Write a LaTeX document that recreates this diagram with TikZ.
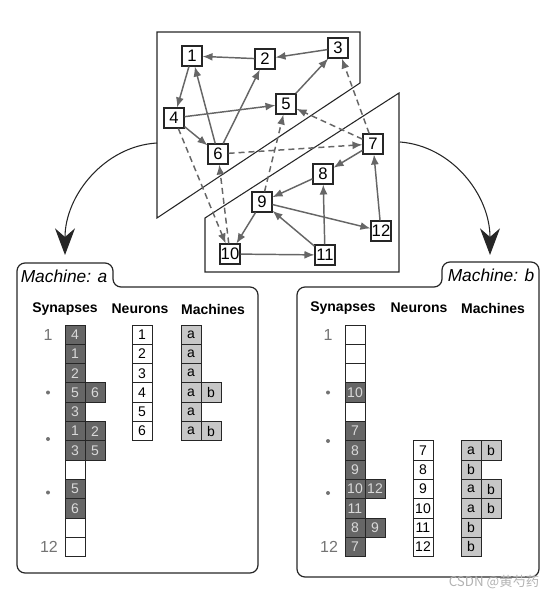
\documentclass[tikz,border=0pt]{standalone}
\usepackage{fontspec}
\setmainfont{Liberation Sans}
\newfontfamily\cjk{Noto Sans CJK SC}
\usetikzlibrary{arrows.meta}

\begin{document}
\begin{tikzpicture}
  [x=0.75pt,y=-0.75pt,
   nrn/.style={draw=black!85,line width=0.8pt,fill=white,minimum size=15pt,inner sep=0pt,font=\fontsize{12.5}{13}\selectfont},
   link/.style={draw=black!60,line width=1.1pt,-{Latex[length=7.5pt,width=6pt]}},
   remote/.style={link,dash pattern=on 4.5pt off 3pt},
   part/.style={draw=black!85,line width=0.8pt},
   box/.style={draw=black!85,line width=0.9pt,rounded corners=6pt},
   move/.style={draw=black!85,line width=0.8pt,-{Stealth[length=20pt,width=15pt]}},
   cell/.style={draw=black!85,line width=0.7pt,minimum width=15pt,minimum height=14.5pt,inner sep=0pt,font=\fontsize{10.5}{12}\selectfont},
   syn/.style={cell,fill=black!60,text=black!15},
   nil/.style={cell,fill=white},
   nrc/.style={cell,fill=white},
   mac/.style={cell,fill=black!22},
   head/.style={font=\bfseries\fontsize{10.5}{12}\selectfont},
   idx/.style={text=black!55,font=\fontsize{12}{14}\selectfont},
   pt/.style={circle,fill=black!55,inner sep=0pt,minimum size=3pt}]

  \useasboundingbox (0,0) rectangle (559,599);

  % partitions of the network
  \draw[part] (157,32) -- (360,32) -- (360,83) -- (157,218) -- cycle;
  \draw[part] (399,93) -- (399,272) -- (205,272) -- (205,218) -- cycle;

  % neurons
  \node [nrn] (n1) at (192,56) {1};
  \node [nrn] (n2) at (265,59) {2};
  \node [nrn] (n3) at (338,48) {3};
  \node [nrn] (n4) at (174,118) {4};
  \node [nrn] (n5) at (286,104) {5};
  \node [nrn] (n6) at (218,154) {6};
  \node [nrn] (n7) at (373,144) {7};
  \node [nrn] (n8) at (323,174) {8};
  \node [nrn] (n9) at (262,202) {9};
  \node [nrn] (n10) at (230,254) {10};
  \node [nrn] (n11) at (325,255) {11};
  \node [nrn] (n12) at (381,231) {12};

  % synapses
  \draw[link] (n2) -- (n1);
  \draw[link] (n3) -- (n2);
  \draw[link] (n1) -- (n4);
  \draw[link] (n4) -- (n5);
  \draw[link] (n4) -- (n6);
  \draw[link] (n6) -- (n1);
  \draw[link] (n6) -- (n2);
  \draw[link] (n5) -- (n3);
  \draw[link] (n7) -- (n8);
  \draw[link] (n8) -- (n9);
  \draw[link] (n9) -- (n10);
  \draw[link] (n9) -- (n12);
  \draw[link] (n11) -- (n9);
  \draw[link] (n11) -- (n8);
  \draw[link] (n12) -- (n7);
  \draw[link] (n10) -- (n11);
  \draw[remote] (n6) -- (n7);
  \draw[remote] (n7) -- (n5);
  \draw[remote] (n7) -- (n3);
  \draw[remote] (n4) -- (n10);
  \draw[remote] (n10) -- (n6);
  \draw[remote] (n9) -- (n5);

  % mapping to machines
  \coordinate (outA) at (157,143);
  \coordinate (inA) at (65,255);
  \coordinate (outB) at (400,142);
  \coordinate (inB) at (490,255);
  \draw[move] (outA) .. controls (105,146) and (65,195) .. (inA);
  \draw[move] (outB) .. controls (452,146) and (490,195) .. (inB);

  % machine a
  \draw[box] (17,573) -- (17,263) -- (113,263) -- (113,287) -- (258,287) -- (258,573) -- cycle;
  \node [font=\itshape\fontsize{13}{14}\selectfont] (ma) at (64,276) {Machine: a};
  \node [head] (sa) at (65,309) {Synapses};
  \node [head] (na) at (140,309) {Neurons};
  \node [head] (ka) at (213,309) {Machines};
  \node [idx] (ia1) at (48,334.6) {1};
  \node [idx] (ia12) at (49,547) {12};
  \node [pt] (da1) at (48,392.5) {};
  \node [pt] (da2) at (48,439) {};
  \node [pt] (da3) at (48,492.5) {};
  \foreach \i/\t/\s in {1/4/syn,2/1/syn,3/2/syn,4/5/syn,5/3/syn,6/1/syn,
                        7/3/syn,8//nil,9/5/syn,10/6/syn,11//nil,12//nil}
    \node [\s] (sa\i) at (75,{315.35+19.3*\i}) {\t};
  \foreach \i/\t in {4/6,6/2,7/5}
    \node [syn] (sb\i) at (95,{315.35+19.3*\i}) {\t};
  \foreach \i in {1,...,6}
    \node [nrc] (ra\i) at (142,{315.35+19.3*\i}) {\i};
  \foreach \i in {1,...,6}
    \node [mac] (ma\i) at (191,{315.35+19.3*\i}) {a};
  \foreach \i in {4,6}
    \node [mac] (mb\i) at (211,{315.35+19.3*\i}) {b};

  % machine b
  \draw[box] (297,577) -- (297,287) -- (442,287) -- (442,262) -- (539,262) -- (539,577) -- cycle;
  \node [font=\itshape\fontsize{13}{14}\selectfont] (mbt) at (491,275) {Machine: b};
  \node [head] (sbh) at (343,308) {Synapses};
  \node [head] (nbh) at (419,308) {Neurons};
  \node [head] (kbh) at (493,308) {Machines};
  \node [idx] (ib1) at (328,334.6) {1};
  \node [idx] (ib12) at (329,547) {12};
  \node [pt] (db1) at (328,392.5) {};
  \node [pt] (db2) at (328,441) {};
  \node [pt] (db3) at (328,493) {};
  \foreach \i/\t/\s in {1//nil,2//nil,3//nil,4/10/syn,5//nil,6/7/syn,
                        7/8/syn,8/9/syn,9/10/syn,10/11/syn,11/8/syn,12/7/syn}
    \node [\s] (sc\i) at (355,{315.35+19.3*\i}) {\t};
  \foreach \i/\t in {9/12,11/9}
    \node [syn] (sd\i) at (375,{315.35+19.3*\i}) {\t};
  \foreach \i in {7,...,12}
    \node [nrc] (rb\i) at (423,{315.35+19.3*\i}) {\i};
  \foreach \i/\t in {7/a,8/b,9/a,10/a,11/b,12/b}
    \node [mac] (mc\i) at (471,{315.35+19.3*\i}) {\t};
  \foreach \i in {7,9,10}
    \node [mac] (md\i) at (491,{315.35+19.3*\i}) {b};

  \node [text=black!30,font=\cjk\fontsize{10}{12}\selectfont] (wm) at (494,582) {CSDN @黄芍药};
\end{tikzpicture}
\end{document}
